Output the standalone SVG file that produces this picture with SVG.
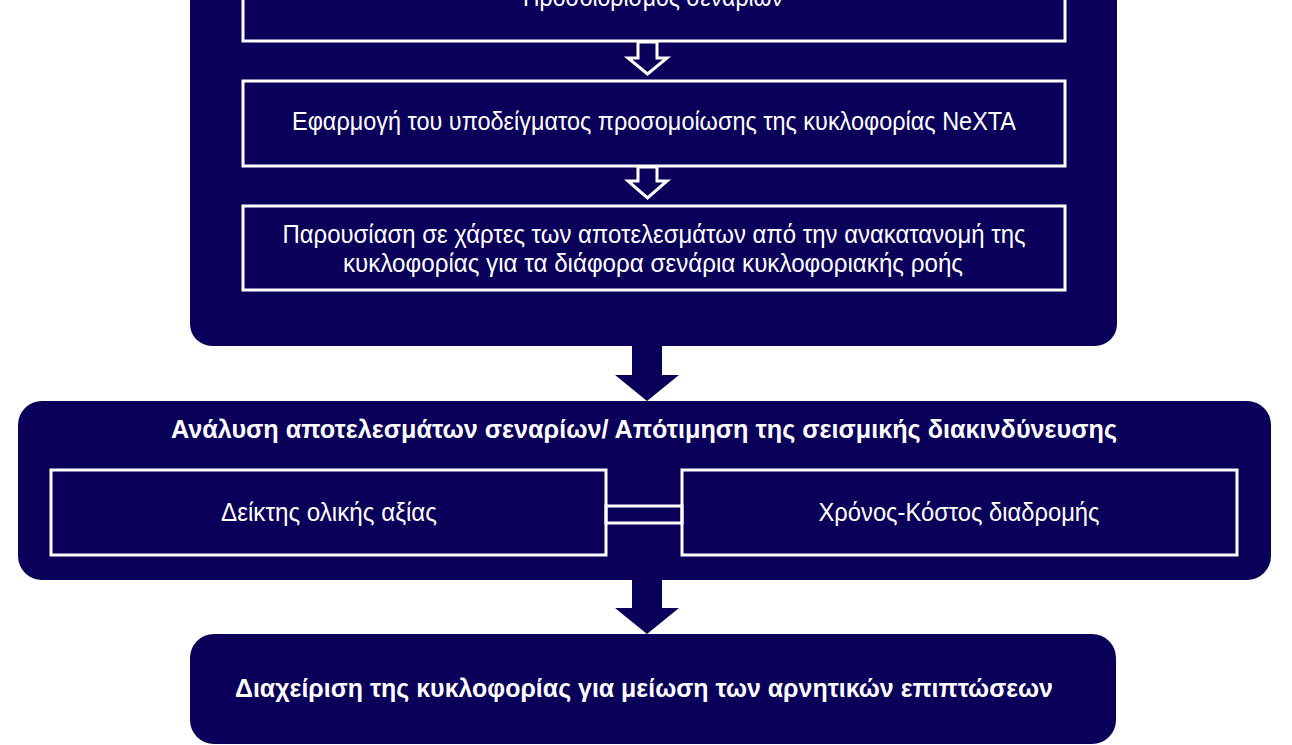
<svg xmlns="http://www.w3.org/2000/svg" width="1292" height="745" viewBox="0 0 1292 745">
<style>
.bg{fill:#ffffff}
.panel{fill:#0b0059}
.box{fill:none;stroke:#ffffff;stroke-width:3}
.t{font-family:"Liberation Sans Narrow","Liberation Sans",sans-serif;fill:#ffffff;font-size:25px;text-anchor:middle}
.b{font-family:"Liberation Sans Narrow","Liberation Sans",sans-serif;fill:#ffffff;font-size:26px;font-weight:bold;text-anchor:middle}
.hollow{fill:#0b0059;stroke:#ffffff;stroke-width:3;stroke-linejoin:miter}
.solid{fill:#0b0059}
</style>
<rect class="bg" x="0" y="0" width="1292" height="745"/>
<g id="panel-top">
<rect class="panel" x="190" y="-40" width="927" height="386" rx="22"/>
</g>
<g id="node-scenarios">
<rect class="box" x="243" y="-50" width="822" height="91"/>
<text class="t" x="653" y="6" textLength="260" lengthAdjust="spacingAndGlyphs">Προσδιορισμός σεναρίων</text>
</g>
<g id="node-nexta">
<rect class="box" x="243" y="81" width="822" height="85"/>
<text class="t" x="654" y="130" textLength="724" lengthAdjust="spacingAndGlyphs">Εφαρμογή του υποδείγματος προσομοίωσης της κυκλοφορίας NeXTA</text>
</g>
<g id="node-maps">
<rect class="box" x="243" y="206" width="822" height="84"/>
<text class="t" x="654" y="243" textLength="743" lengthAdjust="spacingAndGlyphs">Παρουσίαση σε χάρτες των αποτελεσμάτων από την ανακατανομή της</text>
<text class="t" x="653" y="272" textLength="620" lengthAdjust="spacingAndGlyphs">κυκλοφορίας για τα διάφορα σενάρια κυκλοφοριακής ροής</text>
</g>
<g id="panel-analysis">
<rect class="panel" x="18" y="401" width="1253" height="179" rx="24"/>
<text class="b" x="644" y="438" textLength="946" lengthAdjust="spacingAndGlyphs">Ανάλυση αποτελεσμάτων σεναρίων/ Απότιμηση της σεισμικής διακινδύνευσης</text>
</g>
<g id="node-index">
<rect class="box" x="51" y="470" width="555" height="85"/>
<text class="t" x="329" y="521" textLength="216" lengthAdjust="spacingAndGlyphs">Δείκτης ολικής αξίας</text>
</g>
<g id="node-cost">
<rect class="box" x="682" y="470" width="555" height="85"/>
<text class="t" x="959" y="521" textLength="281" lengthAdjust="spacingAndGlyphs">Χρόνος-Κόστος διαδρομής</text>
</g>
<g id="node-management">
<rect class="panel" x="190" y="634" width="926" height="110" rx="24"/>
<text class="b" x="644" y="697" textLength="818" lengthAdjust="spacingAndGlyphs">Διαχείριση της κυκλοφορίας για μείωση των αρνητικών επιπτώσεων</text>
</g>
<g id="connectors">
<path class="hollow" d="M638,42 L657,42 L657,58 L667,58 L647.5,74 L628,58 L638,58 Z"/>
<path class="hollow" d="M638,167 L657,167 L657,181 L667,181 L647.5,198 L628,181 L638,181 Z"/>
<path class="solid" d="M632,346 L662,346 L662,375 L679,375 L647,401 L615,375 L632,375 Z"/>
<path class="solid" d="M632,580 L662,580 L662,608 L679,608 L647,634 L615,608 L632,608 Z"/>
<rect class="box" x="606" y="506" width="76" height="17"/>
</g>
</svg>
